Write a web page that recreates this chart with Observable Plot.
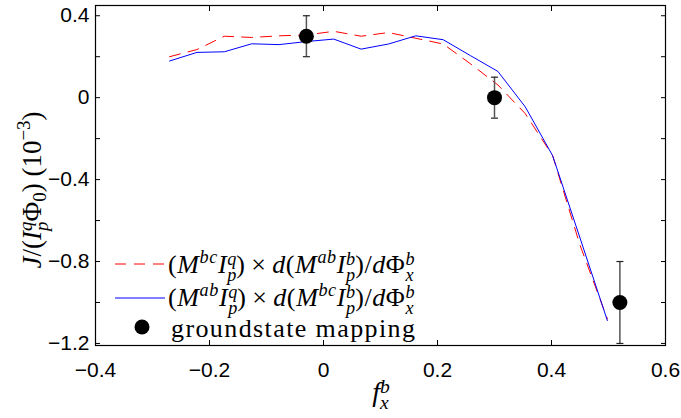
<!DOCTYPE html>
<html><head><meta charset="utf-8">
<script src="https://cdn.jsdelivr.net/npm/d3@7"></script>
<script src="https://cdn.jsdelivr.net/npm/@observablehq/plot@0.6"></script>
<style>
body{margin:0;background:#fff;}
#wrap{position:relative;width:681px;height:418px;overflow:hidden;}
.m{position:absolute;white-space:nowrap;font-family:"Liberation Serif","DejaVu Serif",serif;font-size:26px;line-height:1;color:#000;}
.m i{font-style:italic;}
.ls{letter-spacing:0.6px;}
.ss{display:inline-block;vertical-align:-0.42em;font-size:0.7em;line-height:0.85;text-align:left;letter-spacing:0;}
.ss span{display:block;font-style:italic;}
.up{font-size:0.7em;vertical-align:0.55em;}
.dn{font-size:0.7em;vertical-align:-0.3em;}
.op{display:inline-block;margin:0 0.22em;}
svg.sw{position:absolute;overflow:visible;}
</style></head><body><div id="wrap"></div>
<script>
// ---- data ----
const fx = [-0.270, -0.222, -0.174, -0.126, -0.078, -0.030, 0.018, 0.066, 0.114, 0.162, 0.210, 0.258, 0.306, 0.354, 0.402, 0.450, 0.498];
const redJ = [0.200, 0.235, 0.300, 0.294, 0.302, 0.306, 0.324, 0.300, 0.318, 0.290, 0.262, 0.165, 0.062, -0.078, -0.283, -0.720, -1.080];
const blueJ = [0.179, 0.221, 0.224, 0.263, 0.259, 0.274, 0.286, 0.237, 0.262, 0.302, 0.283, 0.205, 0.128, -0.045, -0.283, -0.685, -1.088];
const gsF = [-0.03, 0.30, 0.52];
const gsJ = [0.30, 0.00, -1.00];
const gsErr = [0.10, 0.10, 0.20];
const xTicks = [-0.4, -0.2, 0, 0.2, 0.4, 0.6];
const yLabelTicks = [0.4, 0, -0.4, -0.8, -1.2];
const yTicks = [0.4, 0.2, 0, -0.2, -0.4, -0.6, -0.8, -1.0, -1.2];

const red = fx.map((f, i) => ({f, J: redJ[i]}));
const blue = fx.map((f, i) => ({f, J: blueJ[i]}));
const gs = gsF.map((f, i) => ({f, J: gsJ[i], e: gsErr[i]}));

const fmt = d => d === 0 ? "0" : d3.format(".1f")(d).replace("-", "\u2212");
const cap = {draw(ctx, size) { const r = Math.sqrt(size / Math.PI); ctx.moveTo(-r, 0); ctx.lineTo(r, 0); }};
const blank = () => "";

const chart = Plot.plot({
  width: 681, height: 418,
  marginLeft: 95, marginRight: 16, marginTop: 5, marginBottom: 73,
  style: {fontFamily: "Liberation Sans, Arial, sans-serif", fontSize: "21px", background: "#fff", color: "#000"},
  x: {domain: [-0.4, 0.6]},
  y: {domain: [-1.21, 0.45]},
  marks: [
    Plot.axisX(xTicks, {anchor: "bottom", tickSize: 0, tickPadding: 17, tickFormat: fmt, label: null, fontSize: 21}),
    Plot.axisY(yLabelTicks, {anchor: "left", tickSize: 0, tickPadding: 6, tickFormat: fmt, label: null, fontSize: 21}),
    Plot.axisX(xTicks, {anchor: "bottom", tickSize: -5, tickFormat: blank, label: null}),
    Plot.axisX(xTicks, {anchor: "top", tickSize: -5, tickFormat: blank, label: null}),
    Plot.axisY(yTicks, {anchor: "left", tickSize: -5, tickFormat: blank, label: null}),
    Plot.axisY(yTicks, {anchor: "right", tickSize: -5, tickFormat: blank, label: null}),
    Plot.line(red, {x: "f", y: "J", stroke: "#ff0000", strokeWidth: 1, strokeDasharray: "11,8"}),
    Plot.line(blue, {x: "f", y: "J", stroke: "#0000ff", strokeWidth: 1}),
    Plot.ruleX(gs, {x: "f", y1: d => d.J - d.e, y2: d => d.J + d.e, stroke: "#555", strokeWidth: 1.5}),
    Plot.dot(gs, {x: "f", y: d => d.J - d.e, symbol: cap, r: 3.5, stroke: "#222", strokeWidth: 1.2}),
    Plot.dot(gs, {x: "f", y: d => d.J + d.e, symbol: cap, r: 3.5, stroke: "#222", strokeWidth: 1.2}),
    Plot.dot(gs, {x: "f", y: "J", r: 7.5, fill: "black", stroke: "none"}),
    Plot.frame({stroke: "black", strokeWidth: 1.2})
  ]
});
const wrap = document.getElementById("wrap");
wrap.appendChild(chart);

// legend & labels (HTML overlay)
const ss = (a, b) => `<span class="ss"><span>${a}</span><span>${b}</span></span>`;
const html = `
<svg class="sw" style="left:0;top:0" width="681" height="418">
  <line x1="115" x2="165" y1="264" y2="264" stroke="#ff0000" stroke-width="1" stroke-dasharray="11,8"/>
  <line x1="115" x2="165" y1="298" y2="298" stroke="#0000ff" stroke-width="1"/>
  <circle cx="142" cy="327" r="7.5" fill="black"/>
</svg>
<div class="m ls" style="left:168px;top:248px">(<i>M</i><span class="up"><i>bc</i></span><i>I</i>${ss("q","p")})<span class="op">×</span><i>d</i>(<i>M</i><span class="up"><i>ab</i></span><i>I</i>${ss("b","p")})/<i>d</i>Φ${ss("b","x")}</div>
<div class="m ls" style="left:168px;top:281px">(<i>M</i><span class="up"><i>ab</i></span><i>I</i>${ss("q","p")})<span class="op">×</span><i>d</i>(<i>M</i><span class="up"><i>bc</i></span><i>I</i>${ss("b","p")})/<i>d</i>Φ${ss("b","x")}</div>
<div class="m" style="left:171px;top:316px;letter-spacing:1.4px">groundstate mapping</div>
<div class="m" style="left:33px;top:190px;font-size:27px;transform:translate(-50%,-50%) rotate(-90deg);"><i>J</i>/(<i>I</i>${ss("q","p")}Φ<span class="dn">0</span>) (10<span class="up">−3</span>)</div>
<div class="m" style="left:381px;top:378px;font-size:28px;transform:translateX(-50%);"><i>f</i>${ss("b","x")}</div>
`;
const ov = document.createElement("div");
ov.innerHTML = html;
while (ov.firstChild) wrap.appendChild(ov.firstChild);
</script></body></html>
